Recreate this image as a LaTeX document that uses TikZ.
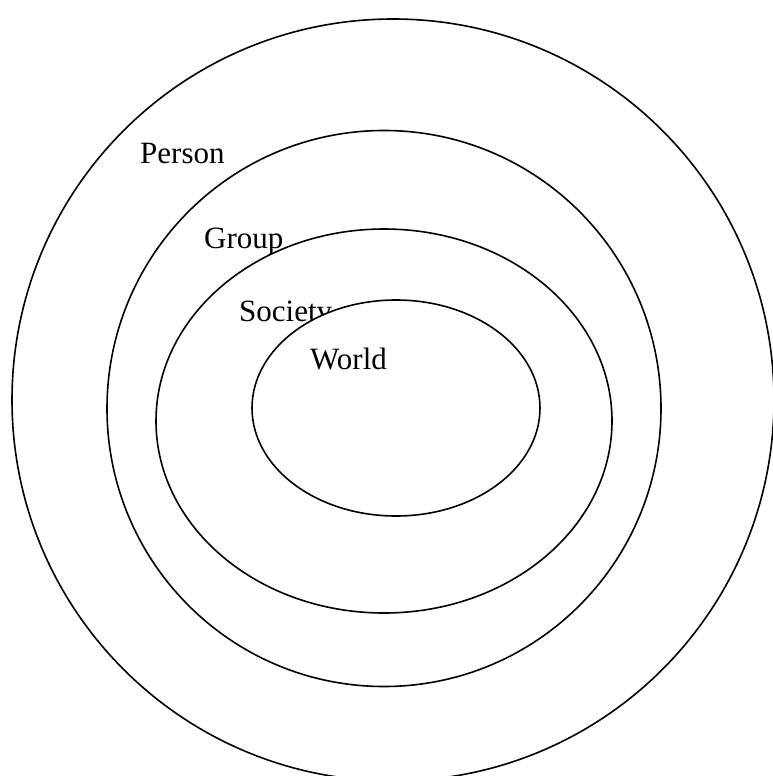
\documentclass[tikz,border=0pt]{standalone}
\usepackage{fontspec}
\setmainfont{Liberation Serif}

\begin{document}
\begin{tikzpicture}[x=1pt,y=-1pt,
  ring/.style={draw,line width=1.6pt,fill=white},
  lbl/.style={anchor=base west,inner sep=0pt,font=\fontsize{31}{37}\selectfont}]
  \useasboundingbox (0,0) rectangle (772,776);
  \draw[ring] (393,400) ellipse [x radius=381pt,y radius=381pt];
  \node[lbl] (person) at (140,163) {Person};
  \draw[ring] (384,408.5) ellipse [x radius=277pt,y radius=278pt];
  \node[lbl] (group) at (204,248) {Group};
  \draw[ring] (384,421) ellipse [x radius=228pt,y radius=192pt];
  \node[lbl] (society) at (239,321) {Society};
  \draw[ring] (396,408) ellipse [x radius=144pt,y radius=108pt];
  \node[lbl] (world) at (310,369) {World};
\end{tikzpicture}
\end{document}
